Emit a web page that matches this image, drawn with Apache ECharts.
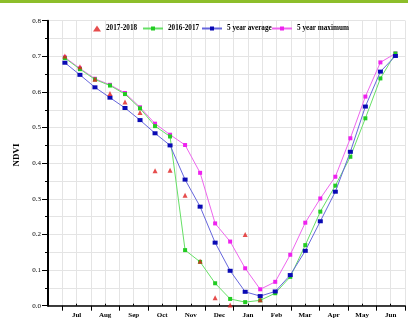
<!DOCTYPE html>
<html>
<head>
<meta charset="utf-8">
<script src="https://cdn.jsdelivr.net/npm/echarts@6/dist/echarts.min.js"></script>
<style>html,body{margin:0;padding:0;background:#fff;}#c{width:408px;height:326px;}</style>
</head>
<body>
<div id="c"></div>
<script>
// 16-day composite positions (days from axis start)
var compositeDays = [18, 34, 50, 66, 82, 98, 114, 130, 146, 162, 178, 194, 210, 226, 242, 258, 274, 290, 306, 322, 338, 354, 370];
var monthLabels = ['Jul','Aug','Sep','Oct','Nov','Dec','Jan','Feb','Mar','Apr','May','Jun'];
var yTicks = [0.0, 0.1, 0.2, 0.3, 0.4, 0.5, 0.6, 0.7, 0.8];
var s2017_2018 = [0.701, 0.671, 0.636, 0.596, 0.572, 0.542, 0.379, 0.380, 0.310, 0.125, 0.022, 0.002, 0.200, 0.017];
var s2016_2017 = [0.695, 0.664, 0.635, 0.618, 0.594, 0.554, 0.504, 0.475, 0.156, 0.123, 0.063, 0.019, 0.010, 0.015, 0.035, 0.081, 0.170, 0.264, 0.337, 0.418, 0.526, 0.638, 0.708];
var avg5 = [0.682, 0.648, 0.613, 0.584, 0.555, 0.521, 0.484, 0.450, 0.354, 0.278, 0.177, 0.098, 0.039, 0.027, 0.040, 0.086, 0.154, 0.237, 0.320, 0.432, 0.559, 0.657, 0.701];
var max5 = [0.697, 0.666, 0.637, 0.620, 0.597, 0.557, 0.511, 0.480, 0.451, 0.373, 0.231, 0.180, 0.105, 0.046, 0.067, 0.143, 0.233, 0.301, 0.362, 0.470, 0.587, 0.683, 0.708];

function pairs(vals){ return vals.map(function(v,i){ return [compositeDays[i], v]; }); }

var step = 365/24;
var xMax = 25*step;
var oddTicks = [], evenTicks = [];
for (var k = 0; k <= 25; k++) { if (k % 2) oddTicks.push(k*step); else evenTicks.push(k*step); }

var serif = 'Liberation Serif';
var legendText = {fontFamily:serif, fontWeight:'bold', fontSize:7.2, color:'#000'};
function leg(name, left, w, h){
  return {left:left, top:25, padding:0, itemWidth:w, itemHeight:h, data:[name], textStyle:legendText};
}
var chart = echarts.init(document.getElementById('c'));
chart.setOption({
  animation: false,
  backgroundColor: '#fff',
  graphic: [
    {type:'rect', shape:{x:0,y:0,width:408,height:3}, style:{fill:'#8dbe2a'}, silent:true},
    {type:'text', x:17, y:155, rotation:Math.PI/2, style:{text:'NDVI', font:'bold 9px "Liberation Serif"', fill:'#000', align:'center', verticalAlign:'middle'}}
  ],
  grid: {left:48, right:3, top:20.7, bottom:20.3, containLabel:false},
  legend: [
    leg('2017-2018', 93, 8, 6),
    leg('2016-2017', 142, 20, 5),
    leg('5 year average', 201, 20, 5),
    leg('5 year maximum', 271, 20, 5)
  ],
  xAxis: [
    {type:'value', min:0, max:xMax, interval:step,
     axisLine:{show:true, onZero:false, lineStyle:{color:'#000', width:1.5}},
     axisTick:{show:false},
     splitLine:{show:true, lineStyle:{color:'#e4e4e4', width:1}},
     axisLabel:{margin:6, fontFamily:serif, fontWeight:'bold', fontSize:7, color:'#000',
       formatter:function(v){ var k=Math.round(v/step); if(k%2===0 && k>=2 && k<=24) return monthLabels[k/2-1]; return ''; }}},
    {type:'value', min:0, max:xMax, position:'bottom',
     axisLine:{show:false}, splitLine:{show:false}, axisLabel:{show:false},
     axisTick:{show:true, length:5, customValues:oddTicks, lineStyle:{color:'#000', width:1}}},
    {type:'value', min:0, max:xMax, position:'bottom',
     axisLine:{show:false}, splitLine:{show:false}, axisLabel:{show:false},
     axisTick:{show:true, inside:true, length:2, customValues:evenTicks, lineStyle:{color:'#000', width:1}}}
  ],
  yAxis: {type:'value', min:0, max:0.8, interval:0.1,
    axisLine:{show:true, lineStyle:{color:'#000', width:2}},
    axisTick:{show:true, length:6, lineStyle:{color:'#000'}},
    minorTick:{show:true, splitNumber:2, length:3, lineStyle:{color:'#000'}},
    splitLine:{show:true, lineStyle:{color:'#e4e4e4'}},
    minorSplitLine:{show:true, lineStyle:{color:'#e4e4e4'}},
    axisLabel:{margin:7, fontFamily:serif, fontSize:7, color:'#000',
      formatter:function(v){ return v.toFixed(1); }}},
  series: [
    {name:'5 year maximum', type:'line', z:2, data:pairs(max5), symbol:'rect', symbolSize:4,
     lineStyle:{color:'#ee66ee', width:1}, itemStyle:{color:'#ee22ee'}},
    {name:'2016-2017', type:'line', z:3, data:pairs(s2016_2017), symbol:'rect', symbolSize:4,
     lineStyle:{color:'#66e066', width:1}, itemStyle:{color:'#22cc22'}},
    {name:'5 year average', type:'line', z:4, data:pairs(avg5), symbol:'rect', symbolSize:[5,4],
     lineStyle:{color:'#6666dd', width:1}, itemStyle:{color:'#0a0ab4'}},
    {name:'2017-2018', type:'scatter', z:5, data:pairs(s2017_2018), symbol:'triangle', symbolSize:5,
     itemStyle:{color:'#e02020'}}
  ]
});
</script>
</body>
</html>
